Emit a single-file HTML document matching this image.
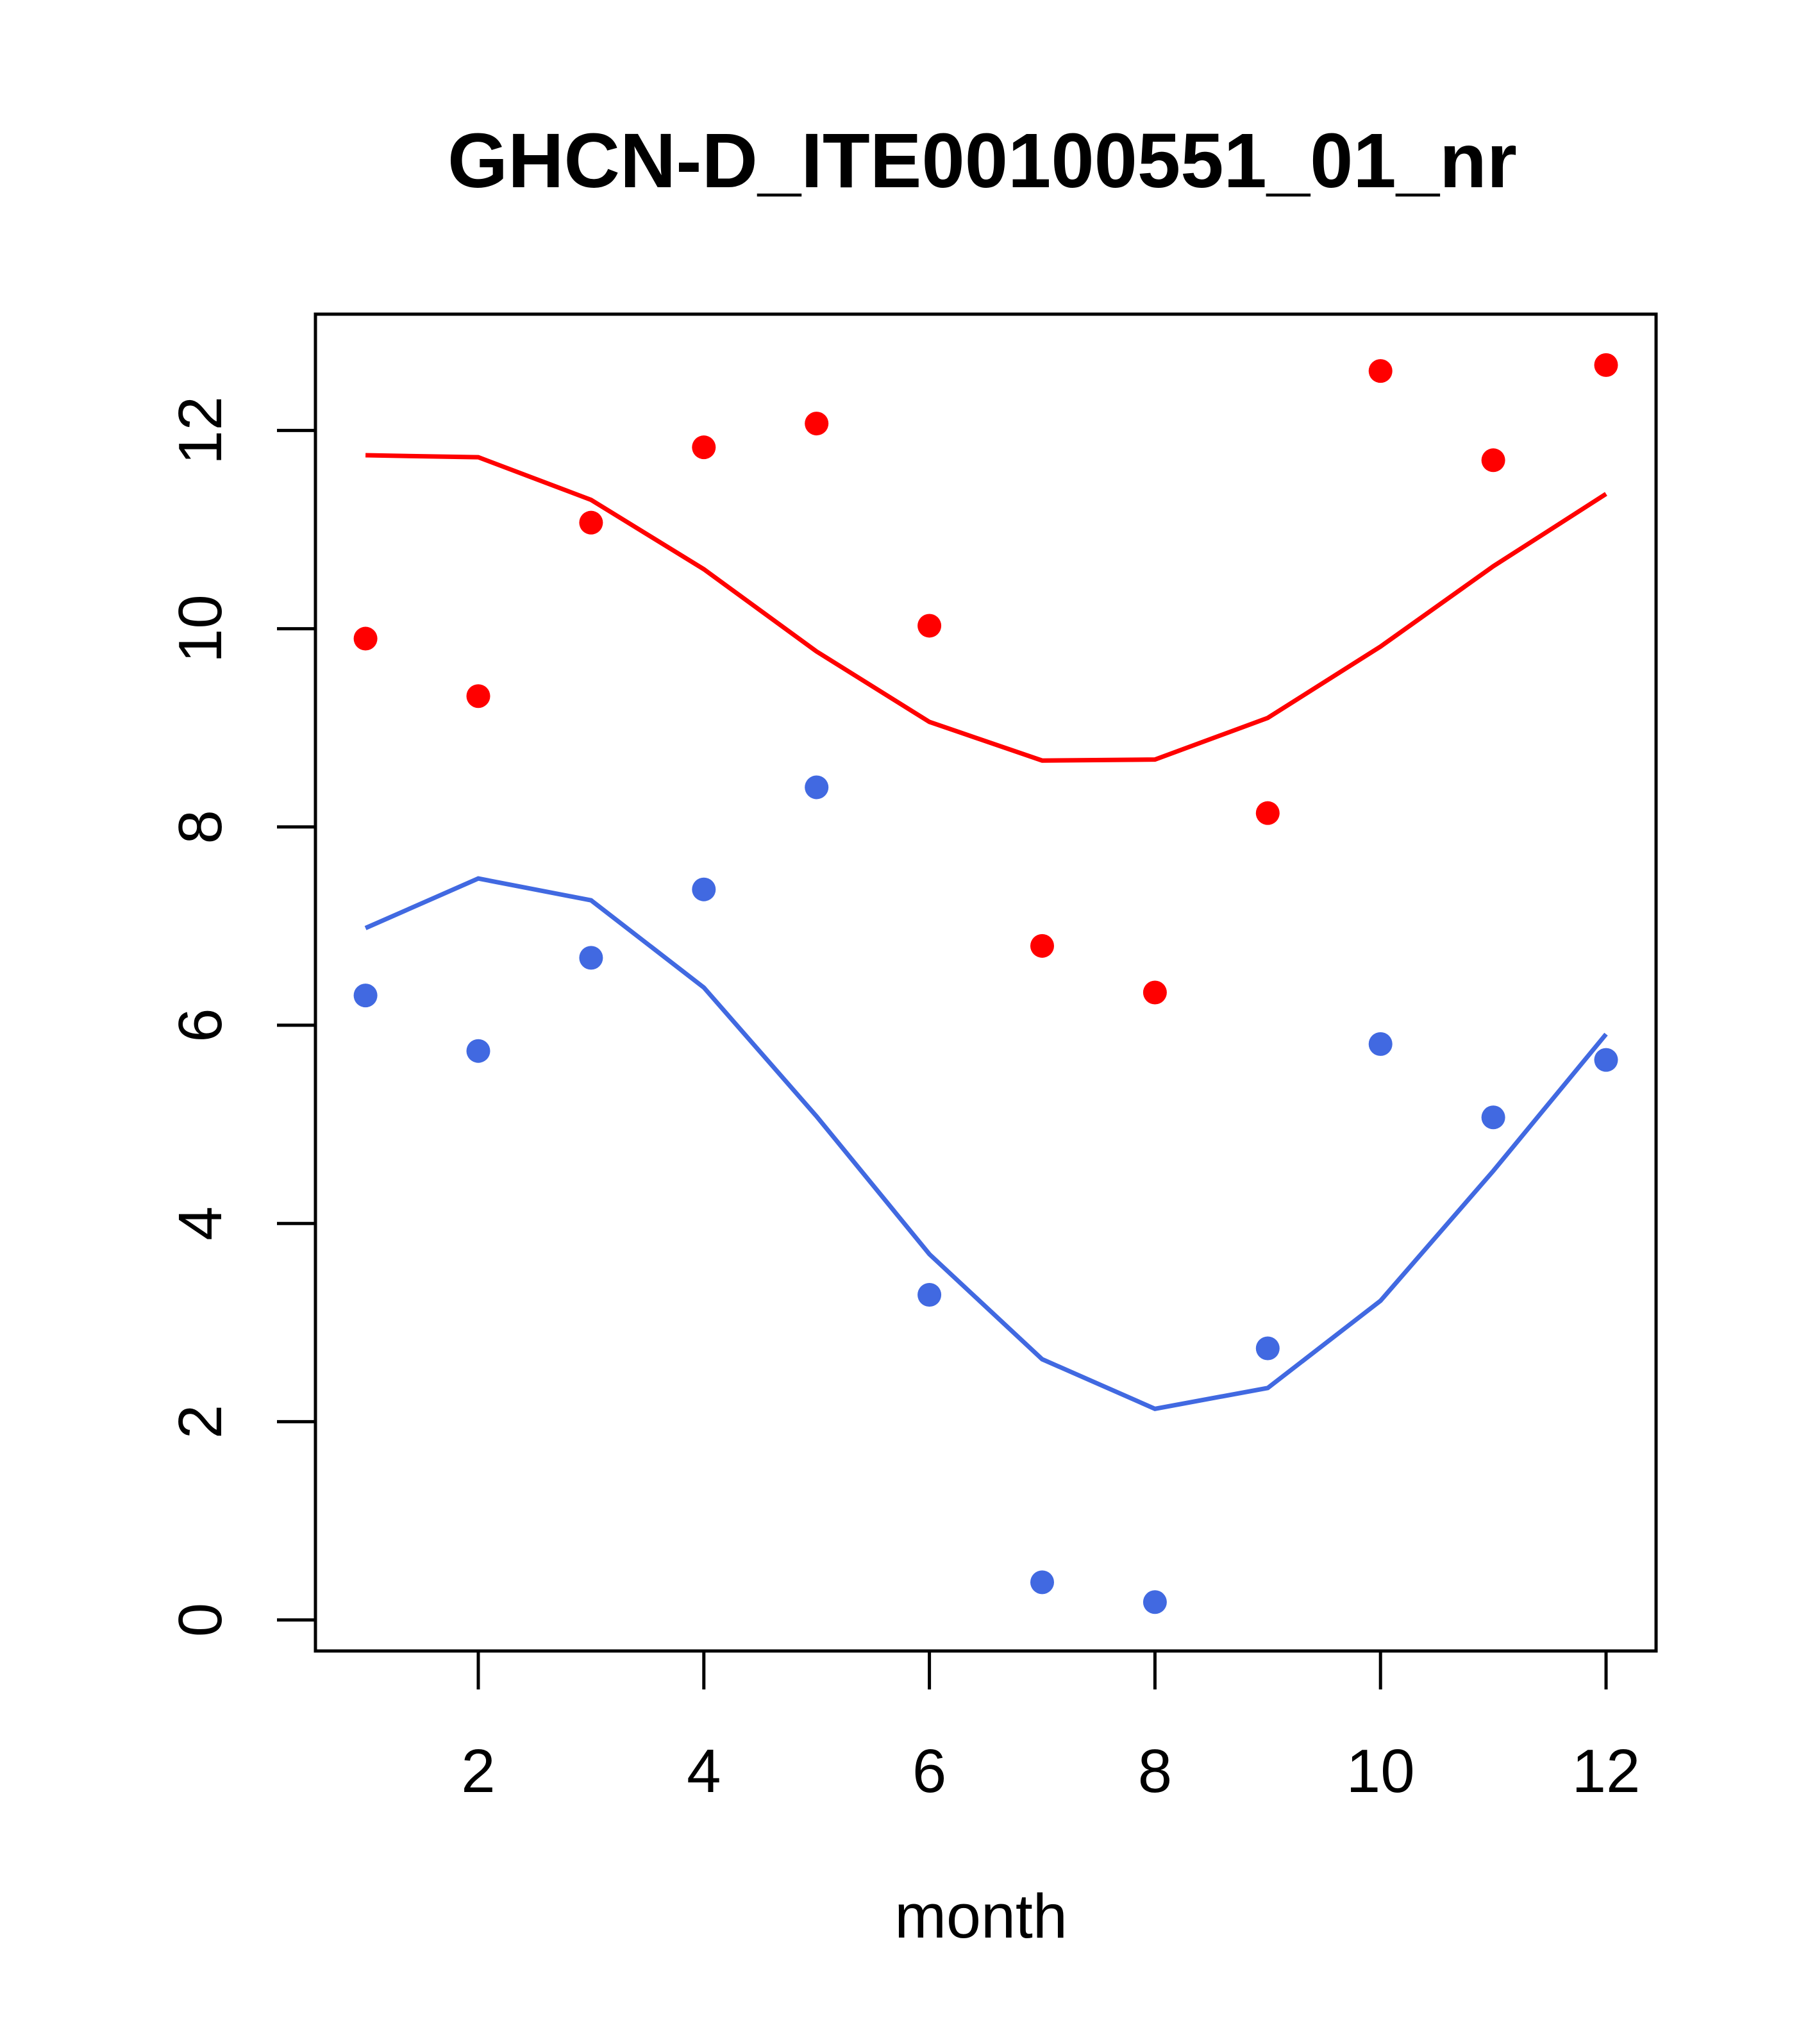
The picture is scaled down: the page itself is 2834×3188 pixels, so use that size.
<!DOCTYPE html>
<html><head><meta charset="utf-8"><style>
html,body{margin:0;padding:0;background:#fff}
svg{display:block}
text{font-family:"Liberation Sans",Arial,sans-serif;fill:#000}
</style></head><body>
<svg id="chart" width="2834" height="3188" viewBox="0 0 2834 3188" xmlns="http://www.w3.org/2000/svg">
<rect width="2834" height="3188" fill="#fff"/>
<text x="1532" y="292" font-size="121" font-weight="bold" text-anchor="middle">GHCN-D_ITE00100551_01_nr</text>
<rect x="492" y="490" width="2091" height="2085" fill="none" stroke="#000" stroke-width="5"/>
<g id="xaxis"></g>
<g id="yaxis"></g>
<g id="series"></g>
<text x="1530" y="3022" font-size="97" text-anchor="middle">month</text>
</svg>
<script>
const months = [1,2,3,4,5,6,7,8,9,10,11,12];
const redPoints = [9.9,9.32,11.07,11.83,12.07,10.03,6.8,6.33,8.14,12.6,11.7,12.66];
const redLine = [11.75,11.73,11.3,10.6,9.77,9.06,8.67,8.68,9.1,9.82,10.63,11.36];
const bluePoints = [6.3,5.74,6.68,7.37,8.4,3.28,0.38,0.18,2.74,5.81,5.07,5.65];
const blueLine = [6.98,7.48,7.26,6.38,5.08,3.69,2.63,2.13,2.34,3.22,4.53,5.91];
const xTicks = [2,4,6,8,10,12];
const yTicks = [0,2,4,6,8,10,12];

const NS = "http://www.w3.org/2000/svg";
function x(m){ return 746 + (m-2)*175.9; }
function y(v){ return 2526.6 - v*154.6; }
function mk(tag, attrs, parent){
  const e = document.createElementNS(NS, tag);
  for (const k in attrs) e.setAttribute(k, attrs[k]);
  parent.appendChild(e); return e;
}
const xa = document.getElementById('xaxis');
const ya = document.getElementById('yaxis');
const se = document.getElementById('series');
mk('line',{x1:x(2),x2:x(12),y1:2575,y2:2575,stroke:'#000','stroke-width':5},xa);
xTicks.forEach(t=>{
  const l = mk('line',{x1:x(t),x2:x(t),y1:2575,y2:2635,stroke:'#000','stroke-width':5},xa);
  
  
  const tx = mk('text',{x:x(t),y:2795,'font-size':96,'text-anchor':'middle'},xa);
  tx.textContent = t;
  
  
});
mk('line',{x1:492,x2:492,y1:y(0),y2:y(12),stroke:'#000','stroke-width':5},ya);
yTicks.forEach(t=>{
  const l = mk('line',{x1:432,x2:492,y1:y(t),y2:y(t),stroke:'#000','stroke-width':5},ya);
  
  
  const tx = mk('text',{x:345,y:y(t),'font-size':96,'text-anchor':'middle',transform:`rotate(-90 345 ${y(t)})`},ya);
  tx.textContent = t;
  
  
});
function line(vals,color,name){
  const p = mk('polyline',{points:vals.map((v,i)=>x(months[i])+','+y(v)).join(' '),fill:'none',stroke:color,'stroke-width':7},se);
  
  
}
function pts(vals,color,name){
  vals.forEach((v,i)=>{
    const c = mk('circle',{cx:x(months[i]),cy:y(v),r:18.5,fill:color},se);
    
    
  });
}
line(redLine,'#ff0000','red-smooth-line');
line(blueLine,'#4169e1','blue-smooth-line');
pts(redPoints,'#ff0000','red-point');
pts(bluePoints,'#4169e1','blue-point');
</script>
</body></html>
